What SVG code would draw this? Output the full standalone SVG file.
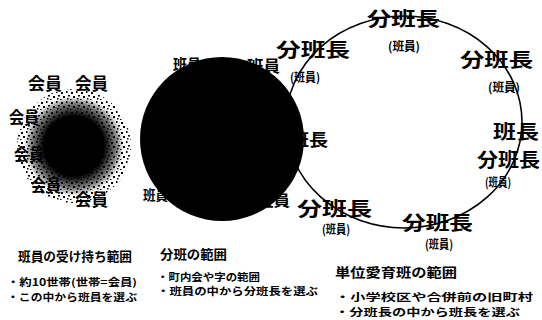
<svg xmlns="http://www.w3.org/2000/svg" width="542" height="320" viewBox="0 0 542 320">
<style>
text{font-family:"Noto Sans CJK JP","Noto Sans CJK SC",sans-serif;font-weight:bold;fill:#000}
.m{font-size:17px}
.b{font-size:19px}
.s{font-size:12px}
.t{font-size:10px}
.c{font-size:13px}
.ring{fill:none;stroke:#000;stroke-width:1.6}
</style>
<defs>
<pattern id="speck" width="10" height="10" patternUnits="userSpaceOnUse">
<rect x="1" y="2" width="2" height="2"/><rect x="6" y="1" width="1.5" height="2"/><rect x="8" y="5" width="2" height="1.5"/>
<rect x="3" y="6" width="2" height="2"/><rect x="7" y="8" width="1.5" height="1.5"/><rect x="0" y="9" width="1.5" height="1"/>
</pattern>
<radialGradient id="core" cx="0.5" cy="0.5" r="0.5">
<stop offset="0" stop-color="#000" stop-opacity="1"/>
<stop offset="0.6" stop-color="#000" stop-opacity="1"/>
<stop offset="0.85" stop-color="#000" stop-opacity="0.5"/>
<stop offset="1" stop-color="#000" stop-opacity="0"/>
</radialGradient>
</defs>
<rect width="542" height="320" fill="#fff"/>
<g id="connectors">
<ellipse class="ring" cx="404" cy="122" rx="118" ry="106"/>
</g>
<g id="member-cluster">
<circle cx="74" cy="146" r="57" fill="url(#speck)"/>
<circle cx="74" cy="146" r="50" fill="url(#core)"/>
<text class="m" x="28" y="90" textLength="34" lengthAdjust="spacingAndGlyphs">会員</text>
<text class="m" x="75" y="90" textLength="33" lengthAdjust="spacingAndGlyphs">会員</text>
<text class="m" x="9" y="124" textLength="30" lengthAdjust="spacingAndGlyphs">会員</text>
<text class="m" x="14" y="161" textLength="30" lengthAdjust="spacingAndGlyphs">会員</text>
<text class="m" x="31" y="192" textLength="30" lengthAdjust="spacingAndGlyphs">会員</text>
<text class="m" x="75" y="206" textLength="33" lengthAdjust="spacingAndGlyphs">会員</text>
</g>
<g id="subgroup-circle">
<circle cx="222" cy="139" r="82" fill="#000"/>
<text x="173" y="70" font-size="15" textLength="28" lengthAdjust="spacingAndGlyphs">班員</text>
<text x="247" y="72" font-size="16" textLength="33" lengthAdjust="spacingAndGlyphs">班員</text>
<text x="143" y="200" font-size="14" textLength="25" lengthAdjust="spacingAndGlyphs">班員</text>
<text x="257" y="206" font-size="15" textLength="33" lengthAdjust="spacingAndGlyphs">班員</text>
<text x="290" y="146" font-size="17" textLength="38" lengthAdjust="spacingAndGlyphs">班長</text>
</g>
<g id="node-top">
<text class="b" x="367" y="26" textLength="73" lengthAdjust="spacingAndGlyphs">分班長</text>
<text class="s" x="388" y="51" textLength="32" lengthAdjust="spacingAndGlyphs">(班員)</text>
</g>
<g id="node-top-left">
<text class="b" x="276" y="57" textLength="74" lengthAdjust="spacingAndGlyphs">分班長</text>
<text class="s" x="290" y="82" textLength="30" lengthAdjust="spacingAndGlyphs">(班員)</text>
</g>
<g id="node-top-right">
<text class="b" x="460" y="67" textLength="73" lengthAdjust="spacingAndGlyphs">分班長</text>
<text class="s" x="488" y="92" textLength="32" lengthAdjust="spacingAndGlyphs">(班員)</text>
</g>
<g id="node-right">
<text x="493" y="139" font-size="19" textLength="46" lengthAdjust="spacingAndGlyphs">班長</text>
<text class="b" x="477" y="167" textLength="63" lengthAdjust="spacingAndGlyphs">分班長</text>
<text class="s" x="485" y="187" textLength="26" lengthAdjust="spacingAndGlyphs">(班員)</text>
</g>
<g id="node-bottom-left">
<text class="b" x="297" y="216" textLength="75" lengthAdjust="spacingAndGlyphs">分班長</text>
<text class="s" x="322" y="234" textLength="28" lengthAdjust="spacingAndGlyphs">(班員)</text>
</g>
<g id="node-bottom">
<text class="b" x="402" y="230" textLength="71" lengthAdjust="spacingAndGlyphs">分班長</text>
<text class="s" x="425" y="249" textLength="28" lengthAdjust="spacingAndGlyphs">(班員)</text>
</g>
<g id="caption-member">
<text class="c" x="18" y="261" textLength="114" lengthAdjust="spacingAndGlyphs">班員の受け持ち範囲</text>
<text class="t" x="7" y="286" textLength="130" lengthAdjust="spacingAndGlyphs">・約10世帯(世帯=会員)</text>
<text class="t" x="7" y="300.5" textLength="130" lengthAdjust="spacingAndGlyphs">・この中から班員を選ぶ</text>
</g>
<g id="caption-subgroup">
<text class="c" x="160" y="259" textLength="67" lengthAdjust="spacingAndGlyphs">分班の範囲</text>
<text class="t" x="157" y="280.5" textLength="103" lengthAdjust="spacingAndGlyphs">・町内会や字の範囲</text>
<text class="t" x="157" y="295" textLength="161" lengthAdjust="spacingAndGlyphs">・班員の中から分班長を選ぶ</text>
</g>
<g id="caption-unit">
<text class="c" x="335" y="277" textLength="122" lengthAdjust="spacingAndGlyphs">単位愛育班の範囲</text>
<text class="t" x="335" y="301" textLength="198" lengthAdjust="spacingAndGlyphs">・小学校区や合併前の旧町村</text>
<text class="t" x="335" y="315.5" textLength="185" lengthAdjust="spacingAndGlyphs">・分班長の中から班長を選ぶ</text>
</g>
</svg>
